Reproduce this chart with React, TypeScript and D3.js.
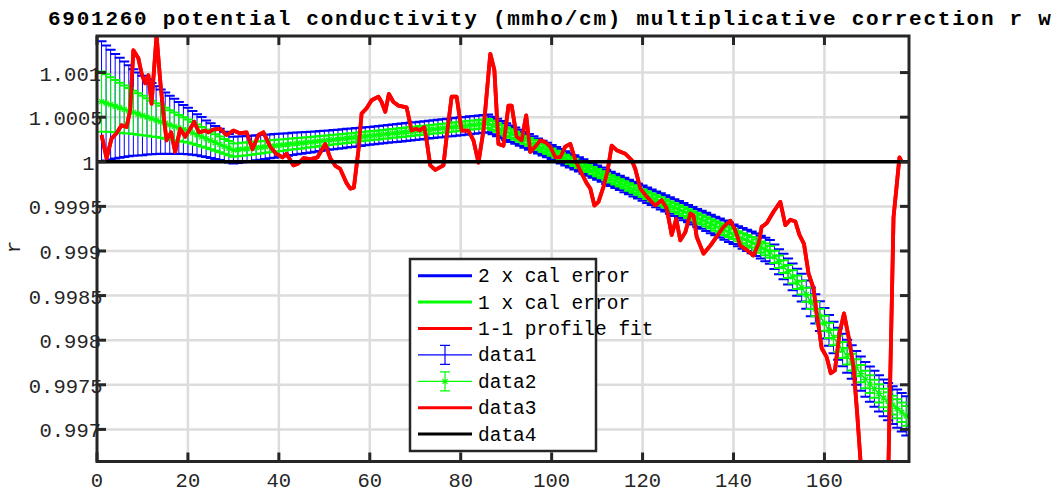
import React from 'react';
import * as d3 from 'd3';

// ---------- data ----------
const titleText = '6901260 potential conductivity (mmho/cm) multiplicative correction r with errors';
const yLabel = 'r';
const xTicks = [0, 20, 40, 60, 80, 100, 120, 140, 160];
const yTicks = [0.997, 0.9975, 0.998, 0.9985, 0.999, 0.9995, 1, 1.0005, 1.001];
const yTickLabels = ['0.997', '0.9975', '0.998', '0.9985', '0.999', '0.9995', '1', '1.0005', '1.001'];
const legendLabels = ['2 x cal error', '1 x cal error', '1-1 profile fit', 'data1', 'data2', 'data3', 'data4'];

// calibration r, as (r - 1) * 1e4, profiles 1..178
const calOffset = [
  6.75, 6.58, 6.40, 6.23, 6.06, 5.88, 5.71, 5.53, 5.36, 5.19, 5.01, 4.84, 4.67, 4.49, 4.32, 4.14, 3.97, 3.80, 3.62, 3.45,
  3.24, 3.02, 2.81, 2.59, 2.38, 2.16, 1.95, 1.73, 1.52, 1.30,
  1.35, 1.41, 1.46, 1.51, 1.57, 1.62, 1.68, 1.73, 1.78, 1.84, 1.89, 1.94, 2.00, 2.05, 2.10, 2.16, 2.21, 2.26, 2.32, 2.37,
  2.43, 2.48, 2.53, 2.59, 2.64, 2.69, 2.75, 2.80, 2.85, 2.91, 2.96, 3.01, 3.07, 3.12, 3.18, 3.23, 3.28, 3.34, 3.39, 3.44,
  3.50, 3.55, 3.60, 3.66, 3.71, 3.76, 3.82, 3.87, 3.93, 3.98, 4.03, 4.09, 4.14, 4.19, 4.25, 4.30,
  4.07, 3.84, 3.61, 3.38, 3.15, 2.92, 2.69, 2.46, 2.23, 2.00, 1.77, 1.54, 1.31, 1.08, 0.85, 0.62, 0.39, 0.16, -0.07, -0.30,
  -0.53, -0.76, -0.99, -1.22, -1.45, -1.68, -1.91, -2.14, -2.37, -2.60, -2.83, -3.06, -3.29, -3.52, -3.75, -3.98, -4.21, -4.44, -4.67, -4.90,
  -5.13, -5.36, -5.59, -5.82, -6.05, -6.28, -6.51, -6.74, -6.97, -7.20, -7.43, -7.66, -7.89, -8.12,
  -8.35, -8.58, -8.81, -9.04, -9.30, -9.57, -9.83, -10.10, -10.65, -11.20, -11.75, -12.30, -12.90, -13.50, -14.10, -14.90, -15.70, -16.50, -17.30, -18.10,
  -18.90, -19.70, -20.40, -21.10, -21.80, -22.45, -23.10, -23.75, -24.40, -24.92, -25.44, -25.96, -26.48, -26.88, -27.28, -27.68, -28.08, -28.48,
];

// 2 x cal error, in 1e-4 units
const calErr2 = [
  6.75, 6.45, 6.15, 5.85, 5.60, 5.35, 5.10, 4.85, 4.65, 4.45, 4.20, 4.00, 3.80, 3.60, 3.45, 3.25, 3.10, 2.90, 2.75, 2.60,
  2.45, 2.30, 2.20, 2.05, 1.95, 1.85, 1.75, 1.65, 1.60, 1.50,
  1.48, 1.46, 1.44, 1.42, 1.40, 1.38, 1.36, 1.34, 1.32, 1.30, 1.28, 1.26, 1.24, 1.22, 1.20, 1.18, 1.16, 1.14, 1.12, 1.10,
  1.09, 1.08, 1.07, 1.06, 1.05, 1.04, 1.03, 1.02, 1.01, 1.00,
  1.00, 1.00, 1.00, 1.00, 1.00, 1.00, 1.00, 1.00, 1.00, 1.00, 1.00, 1.00, 1.00, 1.00, 1.00, 1.00, 1.00, 1.00, 1.00, 1.00,
  1.00, 1.00, 1.00, 1.00, 1.00, 1.00,
  0.99, 0.97, 0.96, 0.94, 0.93, 0.91, 0.90, 0.89, 0.87, 0.86, 0.84, 0.83, 0.81, 0.80,
  0.80, 0.80, 0.80, 0.80, 0.80, 0.80, 0.80, 0.80, 0.80, 0.80, 0.80, 0.80, 0.80, 0.80, 0.80,
  0.81, 0.82, 0.83, 0.84, 0.85,
  0.86, 0.87, 0.89, 0.90, 0.91, 0.92, 0.94, 0.95, 0.96, 0.97, 0.99, 1.00, 1.01, 1.02, 1.04, 1.05, 1.06, 1.07, 1.09, 1.10,
  1.13, 1.16, 1.19, 1.22, 1.25, 1.28, 1.31, 1.34, 1.37, 1.40, 1.43, 1.46, 1.49, 1.52, 1.55, 1.58, 1.61, 1.64, 1.67, 1.70,
  1.73, 1.76, 1.78, 1.81, 1.84, 1.87, 1.90, 1.92, 1.95, 1.98, 2.01, 2.03, 2.06, 2.09, 2.12, 2.14, 2.17, 2.20,
];

// 1-1 profile fit: profile positions and (r - 1) * 1e4
const fitProfile = [
  1.0, 2.1, 3.2, 4.3, 5.4, 6.5, 7.3, 8.0, 9.1, 9.8, 10.6, 11.3, 12.0, 13.1, 13.9, 14.6, 15.3, 16.3, 17.2, 18.3,
  19.4, 20.5, 21.4, 22.4, 23.8, 24.5, 25.5, 27.1, 28.5, 30.0, 31.4, 32.9, 34.2, 35.5, 36.6, 38.1, 39.4, 40.8, 41.7, 43.2,
  44.3, 45.4, 47.0, 48.5, 50.2, 51.3, 52.5, 53.5, 54.9, 55.7, 56.5, 57.5, 58.2, 59.3, 60.4, 61.9, 62.6, 63.4, 64.2, 65.2,
  66.3, 68.1, 69.2, 70.2, 71.0, 72.0, 72.5, 73.3, 74.4, 76.2, 76.9, 78.0, 79.1, 80.2, 81.7, 82.8, 83.9, 85.0, 86.5, 87.4,
  88.3, 89.4, 90.5, 91.2, 92.3, 93.4, 94.4, 95.3, 96.4, 97.5, 98.6, 99.7, 100.8, 101.9, 103.0, 104.1, 105.2, 106.3, 107.7, 108.5,
  109.4, 110.3, 111.4, 112.3, 113.2, 114.3, 116.2, 117.6, 118.4, 119.5, 120.9, 122.8, 124.2, 125.3, 126.4, 127.4, 128.3, 129.4, 130.5, 131.2,
  131.9, 133.4, 134.9, 136.3, 137.8, 139.3, 140.4, 141.5, 142.9, 144.4, 145.5, 146.2, 147.3, 148.8, 150.3, 151.4, 152.5, 153.6, 154.5, 155.5,
  156.5, 157.6, 158.3, 159.4, 160.5, 161.4, 162.3, 163.3, 164.3, 165.3, 166.4, 167.2, 168.0, 169.0, 170.0, 172.0, 173.0, 174.0, 175.2, 176.0,
  176.5, 177.0,
];
const fitOffset = [
  3.0, 0.4, 2.6, 3.2, 4.1, 3.9, 5.8, 12.5, 11.6, 9.9, 8.8, 9.7, 6.5, 14.2, 9.1, 5.4, 2.4, 3.3, 1.1, 3.7,
  2.8, 3.7, 4.5, 3.3, 3.5, 3.3, 3.6, 3.7, 3.0, 3.5, 3.2, 3.3, 1.4, 3.0, 3.3, 1.7, 0.9, 0.5, 0.9, -0.4,
  -0.2, 0.4, 0.3, 0.5, 2.0, 0.4, -0.5, -0.8, -2.4, -3.0, -2.9, 1.3, 5.4, 6.0, 6.9, 7.3, 6.7, 5.6, 7.6, 6.7,
  6.3, 6.1, 3.5, 3.7, 3.5, 3.9, 2.4, -0.4, -0.9, -0.4, 2.8, 7.3, 7.3, 3.5, 3.5, 2.4, -0.1, 3.5, 12.1, 10.3,
  2.0, 1.8, 6.3, 6.3, 2.8, 2.4, 5.2, 1.1, 1.7, 2.4, 2.2, 1.7, 0.5, 0.5, 1.7, 2.0, 0.2, -1.0, -2.4, -3.0,
  -4.9, -4.5, -2.8, -1.0, 1.8, 1.3, 0.9, 0.2, -0.8, -3.0, -3.9, -4.9, -4.3, -5.2, -8.2, -6.4, -8.8, -7.9, -5.8, -6.0,
  -8.4, -10.3, -9.4, -8.4, -7.3, -6.6, -7.7, -9.4, -9.9, -10.5, -9.2, -7.3, -6.9, -5.6, -4.5, -7.1, -6.5, -6.7, -8.2, -9.2,
  -12.5, -14.2, -17.0, -20.9, -21.9, -23.7, -23.4, -19.3, -17.0, -19.6, -23.0, -28.2, -34.0, -42.0, -48.0, -50.0, -45.0, -36.0, -6.2, -2.1,
  0.5, 0.0,
];

const referenceR = [1, 1];
const referenceX = [0, 178.6];

// ---------- component ----------
const AX = '#262626';
const MONO = "'Liberation Mono', 'Courier New', monospace";

export default function App() {
  const W = 1052, H = 495;
  const L = 97, R = 909, T = 36, B = 461.5;
  const x = d3.scaleLinear().domain([0, 178.6]).range([L, R]);
  const y = d3.scaleLinear().domain([0.99664, 1.00141]).range([B, T]);

  const profiles = calOffset.map((_, i) => i + 1);
  const rc = calOffset.map((v) => 1 + v * 1e-4);
  const e2 = calErr2.map((v) => v * 1e-4);
  const e1 = e2.map((v) => v / 2);

  const line = d3.line<[number, number]>().x((d) => x(d[0])).y((d) => y(d[1]));
  const center = line(profiles.map((p, i) => [p, rc[i]] as [number, number])) || '';
  const fitPath = line(fitProfile.map((p, i) => [p, 1 + fitOffset[i] * 1e-4] as [number, number])) || '';
  const refPath = line(referenceX.map((p, i) => [p, referenceR[i]] as [number, number])) || '';

  const cap = 5;
  const stems = (err: number[]) =>
    profiles
      .map((p, i) => `M${x(p)},${y(rc[i] + err[i])}V${y(rc[i] - err[i])}`)
      .join('');
  const caps = (err: number[]) =>
    profiles
      .map((p, i) => {
        const px = x(p);
        const yt = y(rc[i] + err[i]);
        const yb = y(rc[i] - err[i]);
        return `M${px - cap},${yt}H${px + cap}M${px - cap},${yb}H${px + cap}`;
      })
      .join('');
  const stars = profiles
    .map((p, i) => {
      const px = x(p), py = y(rc[i]);
      const s = 3.5, d = 2.5;
      return `M${px - s},${py}H${px + s}M${px},${py - s}V${py + s}M${px - d},${py - d}L${px + d},${py + d}M${px - d},${py + d}L${px + d},${py - d}`;
    })
    .join('');

  const tickLen = 9;
  const lgX = 410, lgY = 259, lgW = 186, lgH = 192;
  const rowY = (i: number) => 275.7 + i * 26.4;
  const sampleX0 = 418, sampleX1 = 472, sampleMid = 445;

  return (
    <svg width={W} height={H} style={{ position: 'absolute', left: 0, top: 0, background: '#fff' }}>
      <defs>
        <clipPath id="plotClip">
          <rect x={L} y={T} width={R - L} height={B - T} />
        </clipPath>
      </defs>
      <rect x={0} y={0} width={W} height={H} fill="#fff" />

      {/* grid */}
      <g stroke="#dcdcdc" strokeWidth={2.5}>
        {xTicks.map((t) => (
          <line key={'gx' + t} x1={x(t)} x2={x(t)} y1={T} y2={B} />
        ))}
        {yTicks.map((t) => (
          <line key={'gy' + t} x1={L} x2={R} y1={y(t)} y2={y(t)} />
        ))}
      </g>

      {/* data */}
      <g clipPath="url(#plotClip)" fill="none">
        <path d={fitPath} stroke="#ff0000" strokeWidth={3.8} strokeLinejoin="round" />
        <path d={center} stroke="#0000ff" strokeWidth={1} />
        <path d={stems(e2)} stroke="#0000ff" strokeWidth={1} />
        <path d={caps(e2)} stroke="#0000ff" strokeWidth={2} />
        <path d={center} stroke="#00ff00" strokeWidth={1} />
        <path d={stems(e1)} stroke="#00ff00" strokeWidth={1} />
        <path d={caps(e1)} stroke="#00ff00" strokeWidth={2} />
        <path d={stars} stroke="#00ff00" strokeWidth={1.2} />
        <path d={fitPath} stroke="#ff0000" strokeWidth={3.8} strokeLinejoin="round" />
        <path d={refPath} stroke="#000000" strokeWidth={3.5} />
      </g>

      {/* tick labels */}
      <g fill={AX} fontFamily={MONO} fontSize={20.5}>
        {yTicks.map((t, i) => (
          <text key={'yl' + t} x={93 - yTickLabels[i].length * 10.7} y={y(t) + 8}>
            {yTickLabels[i]}
          </text>
        ))}
        {xTicks.map((t) => (
          <text key={'xl' + t} x={x(t)} y={487} textAnchor="middle">
            {String(t)}
          </text>
        ))}
      </g>

      {/* axes box and ticks */}
      <g stroke={AX} strokeWidth={3} fill="none">
        {xTicks.map((t) => (
          <g key={'tx' + t}>
            <line x1={x(t)} x2={x(t)} y1={B} y2={B - tickLen} />
            <line x1={x(t)} x2={x(t)} y1={T} y2={T + tickLen} />
          </g>
        ))}
        {yTicks.map((t) => (
          <g key={'ty' + t}>
            <line x1={L} x2={L + tickLen} y1={y(t)} y2={y(t)} />
            <line x1={R} x2={R - tickLen} y1={y(t)} y2={y(t)} />
          </g>
        ))}
        <rect x={L} y={T} width={R - L} height={B - T} strokeLinejoin="miter" />
      </g>

      {/* y label */}
      <text
        transform={`translate(20,247) rotate(-90)`}
        textAnchor="middle"
        fontFamily={MONO}
        fontSize={21}
        fill={AX}
      >
        {yLabel}
      </text>

      {/* title */}
      <text x={48} y={25} fontFamily={MONO} fontSize={21} fontWeight="bold" letterSpacing={1.75} fill="#000">
        {titleText}
      </text>

      {/* legend */}
      <g>
        <rect x={lgX} y={lgY} width={lgW} height={lgH} fill="#fff" stroke={AX} strokeWidth={2.5} />
        {[0, 1, 2, 5, 6].map((i) => (
          <line
            key={'ls' + i}
            x1={sampleX0}
            x2={sampleX1}
            y1={rowY(i)}
            y2={rowY(i)}
            stroke={['#0000ff', '#00ff00', '#ff0000', '', '', '#ff0000', '#000000'][i]}
            strokeWidth={3}
          />
        ))}
        <g stroke="#0000ff" strokeWidth={1.2} fill="none">
          <line x1={sampleX0} x2={sampleX1} y1={rowY(3)} y2={rowY(3)} />
          <path d={`M${sampleMid - 5},${rowY(3) - 9.5}H${sampleMid + 5}M${sampleMid},${rowY(3) - 9.5}V${rowY(3) + 9.5}M${sampleMid - 5},${rowY(3) + 9.5}H${sampleMid + 5}`} />
        </g>
        <g stroke="#00ff00" strokeWidth={1.2} fill="none">
          <line x1={sampleX0} x2={sampleX1} y1={rowY(4)} y2={rowY(4)} />
          <path d={`M${sampleMid - 5},${rowY(4) - 9.5}H${sampleMid + 5}M${sampleMid},${rowY(4) - 9.5}V${rowY(4) + 9.5}M${sampleMid - 5},${rowY(4) + 9.5}H${sampleMid + 5}`} />
          <path d={`M${sampleMid - 3.5},${rowY(4)}H${sampleMid + 3.5}M${sampleMid - 2.5},${rowY(4) - 2.5}L${sampleMid + 2.5},${rowY(4) + 2.5}M${sampleMid - 2.5},${rowY(4) + 2.5}L${sampleMid + 2.5},${rowY(4) - 2.5}`} />
        </g>
        {legendLabels.map((lab, i) => (
          <text key={'lt' + i} x={478} y={rowY(i) + 6.5} fontFamily={MONO} fontSize={19.5} fill="#000">
            {lab}
          </text>
        ))}
      </g>
    </svg>
  );
}
